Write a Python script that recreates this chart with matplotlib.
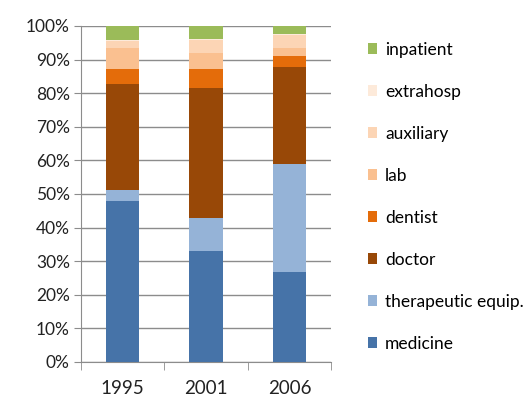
import numpy as np
import matplotlib.pyplot as plt
from matplotlib.patches import Patch
from matplotlib.ticker import PercentFormatter

plt.rcParams['font.family'] = ['Lato', 'DejaVu Sans']

years = ['1995', '2001', '2006']
medicine = [47.8, 33.0, 26.7]
therapeutic = [3.4, 9.9, 32.1]
doctor = [31.4, 38.6, 29.1]
dentist = [4.6, 5.7, 3.3]
lab = [6.3, 4.7, 2.3]
auxiliary = [2.0, 3.8, 3.8]
extrahosp = [0.3, 0.3, 0.3]
inpatient = [4.2, 4.0, 2.4]

series = [
    ('medicine', medicine, '#4673A8'),
    ('therapeutic equip.', therapeutic, '#95B3D7'),
    ('doctor', doctor, '#984807'),
    ('dentist', dentist, '#E46C0A'),
    ('lab', lab, '#FAC090'),
    ('auxiliary', auxiliary, '#FCD5B5'),
    ('extrahosp', extrahosp, '#FDEADA'),
    ('inpatient', inpatient, '#9BBB59'),
]

fig = plt.figure(figsize=(5.29, 4.07), dpi=100)
ax = fig.add_axes([0.153, 0.1106, 0.473, 0.8256])

x = np.arange(len(years))
bottom = np.zeros(len(years))
for name, vals, color in series:
    ax.bar(x, vals, 0.4, bottom=bottom, color=color, label=name, zorder=3)
    bottom += np.array(vals)

ax.set_xlim(-0.5, 2.5)
ax.set_ylim(0, 100)
ax.set_yticks(np.arange(0, 101, 10))
ax.yaxis.set_major_formatter(PercentFormatter(decimals=0))
ax.yaxis.grid(True, color='#8c8c8c', linewidth=1, zorder=0)

ax.set_xticks(x)
ax.set_xticklabels(years)
ax.set_xticks([-0.5, 0.5, 1.5, 2.5], minor=True)
ax.tick_params(axis='x', which='major', length=0, pad=13, labelsize=13.5)
ax.tick_params(axis='x', which='minor', length=6, color='#8c8c8c', direction='out')
ax.tick_params(axis='y', length=5, color='#8c8c8c', pad=3, labelsize=12.5)
ax.tick_params(labelcolor='#222222')

for side in ['top', 'right']:
    ax.spines[side].set_visible(False)
for side in ['left', 'bottom']:
    ax.spines[side].set_color('#8c8c8c')

handles = [Patch(facecolor=c, label=n) for n, _, c in series][::-1]
fig.legend(handles=handles, loc='upper left', bbox_to_anchor=(0.682, 0.915),
           frameon=False, fontsize=12.5, handlelength=0.55, handleheight=0.55,
           handletextpad=0.45, labelspacing=1.5, borderaxespad=0)

fig.savefig('out.png', dpi=100)
